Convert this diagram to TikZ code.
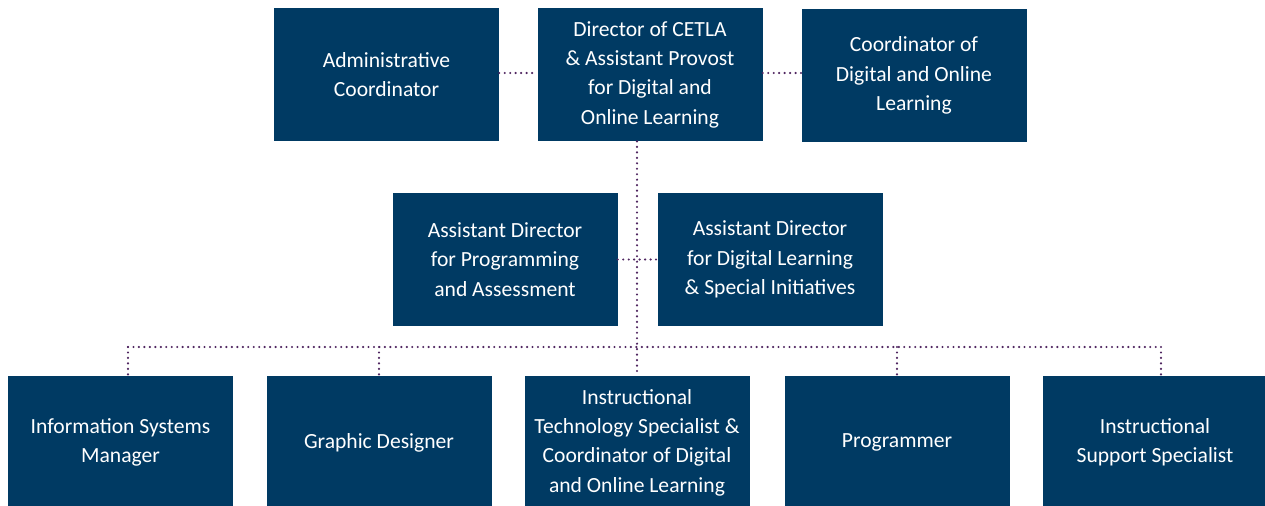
\documentclass[tikz,border=0pt]{standalone}
\usepackage{fontspec}
\setmainfont{Carlito}
\usepackage{tikz}
\usetikzlibrary{calc,positioning}
\definecolor{cetlablue}{HTML}{003A63}
\definecolor{linkpurple}{HTML}{4F2560}
\tikzset{
chart/.style={x=0.75pt,y=-0.75pt,font=\fontsize{16.2}{22}\selectfont},
post/.style={rectangle,fill=cetlablue,text=white,align=center,
minimum width=168.75pt,minimum height=100pt,inner sep=0pt},
link/.style={draw=linkpurple,line width=1.8pt,dash pattern=on 0pt off 4.1pt,line cap=round},
}

\begin{document}
\begin{tikzpicture}[chart]
    \useasboundingbox (0,0) rectangle (1265,506);
    % top row
    \node[post] (admin) at (386.5,74.5) {Administrative\\Coordinator};
    \node[post] (dir) at (650,74.5) {Director of CETLA\\\& Assistant Provost\\for Digital and\\Online Learning};
    \node[post] (coord) at (914,75.5) {Coordinator of\\Digital and Online\\Learning};
    % assistant directors
    \node[post] (adprog) at (505,259.5) {Assistant Director\\for Programming\\and Assessment};
    \node[post] (addig) at (770,259.5) {Assistant Director\\for Digital Learning\\\& Special Initiatives};
    % staff
    \node[post] (ism) at (120.5,442.5) {Information Systems\\Manager};
    \node[post] (gd) at (379,442.5) {Graphic Designer};
    \node[post] (its) at (637,442.5) {Instructional\\Technology Specialist \&\\Coordinator of Digital\\and Online Learning};
    \node[post] (prog) at (897,442.5) {Programmer};
    \node[post] (iss) at (1155,442.5) {Instructional\\Support Specialist};

    \coordinate (busl) at (128,347);
    \coordinate (busr) at (1161,347);
    \coordinate (busm) at (637,347);

    \draw[link] (admin.east |- 0,73) -- (dir.west |- 0,73);
    \draw[link] (dir.east |- 0,73) -- (coord.west |- 0,73);
    \draw[link] (dir.south -| busm) -- (its.north);
    \draw[link] (adprog.east) -- (addig.west);
    \draw[link] (busl) -- (busr);
    \draw[link] (busl) -- (busl |- ism.north);
    \draw[link] (busr) -- ($(busr |- iss.north)+(0,4)$);
    \draw[link] (gd.north |- busm) -- (gd.north);
    \draw[link] (prog.north |- busm) -- ($(prog.north)+(0,4)$);
\end{tikzpicture}
\end{document}
